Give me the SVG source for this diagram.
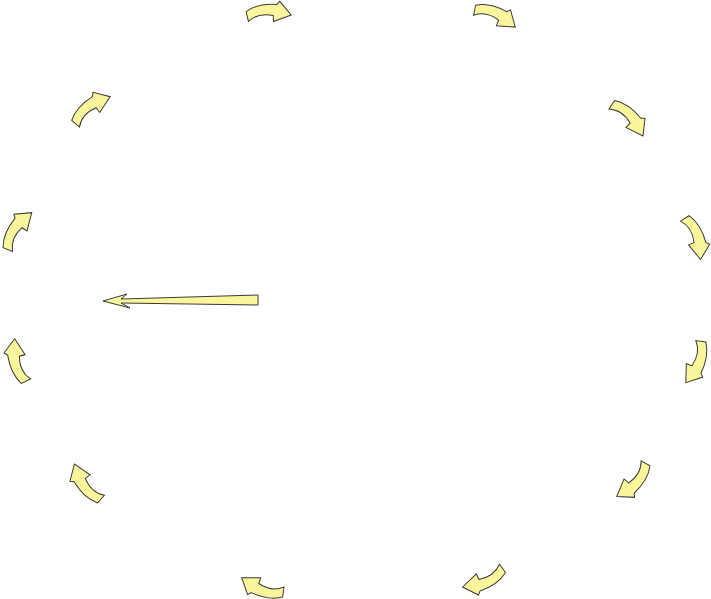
<svg xmlns="http://www.w3.org/2000/svg" xmlns:xlink="http://www.w3.org/1999/xlink" width="711" height="599" viewBox="0 0 711 599">
<style>
.arr{fill:#fbf59b;stroke:#3a3a3a;stroke-width:1;stroke-linejoin:miter}
</style>
<defs>
<path id="curved" d="M-22.5,-5 Q-10.5,-13 8.5,-11 L11.5,-14 L22.5,0 L4.5,6 L4.5,0 Q-10.5,-4 -20.5,5 Z"/>
</defs>
<rect width="711" height="599" fill="#ffffff"/>
<g id="connectors">
<use id="a1" class="arr" xlink:href="#curved" href="#curved" transform="translate(268.75,15.75) rotate(-2)"/>
<use id="a2" class="arr" xlink:href="#curved" href="#curved" transform="translate(494.5,18.5) rotate(22.5)"/>
<use id="a3" class="arr" xlink:href="#curved" href="#curved" transform="translate(627,120) rotate(45)"/>
<use id="a4" class="arr" xlink:href="#curved" href="#curved" transform="translate(692.5,238.5) rotate(69)"/>
<use id="a5" class="arr" xlink:href="#curved" href="#curved" transform="translate(693.5,361.5) rotate(110)"/>
<use id="a6" class="arr" xlink:href="#curved" href="#curved" transform="translate(631.5,479.5) rotate(131)"/>
<use id="a7" class="arr" xlink:href="#curved" href="#curved" transform="translate(483,577.5) rotate(155)"/>
<use id="a8" class="arr" xlink:href="#curved" href="#curved" transform="translate(263,585) rotate(199)"/>
<use id="a9" class="arr" xlink:href="#curved" href="#curved" transform="translate(88,482) rotate(233)"/>
<use id="a10" class="arr" xlink:href="#curved" href="#curved" transform="translate(20.5,360.5) rotate(255)"/>
<use id="a11" class="arr" xlink:href="#curved" href="#curved" transform="translate(19.5,231.5) rotate(303)"/>
<use id="a12" class="arr" xlink:href="#curved" href="#curved" transform="translate(92.5,110.5) rotate(322)"/>
<path id="pointer" class="arr" d="M258,295 L258,305 L121,303 L130,308 L103,301 L127,294 L121,299 Z"/>
</g>
</svg>
